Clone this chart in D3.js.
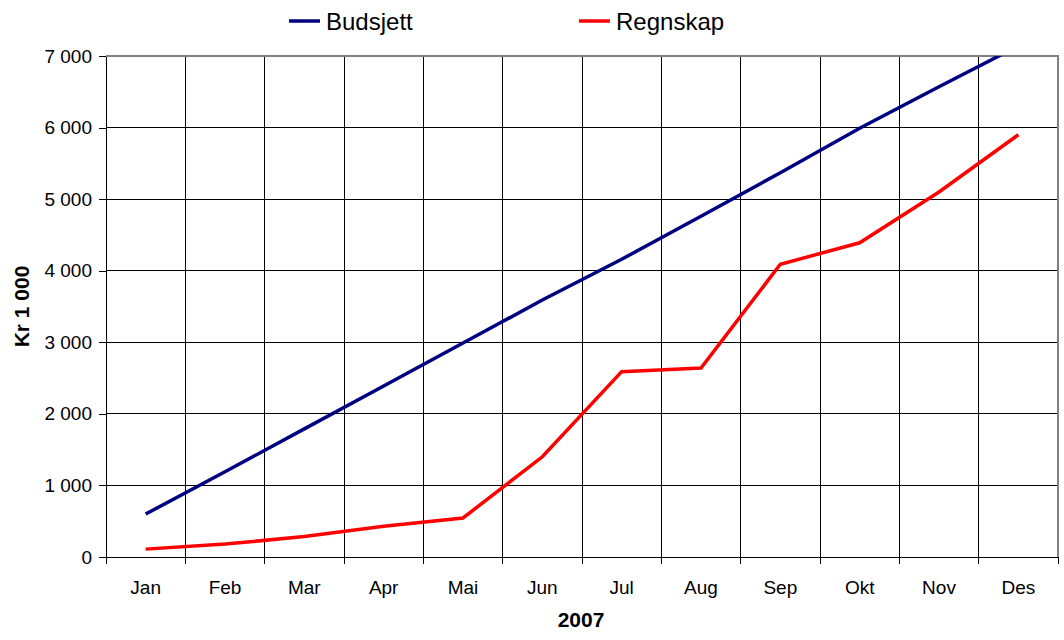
<!DOCTYPE html>
<html>
<head>
<meta charset="utf-8">
<script src="https://cdn.jsdelivr.net/npm/d3@7"></script>
<style>
body { margin: 0; background: #fff; }
svg { font-family: "Liberation Sans", Arial, sans-serif; }
</style>
</head>
<body>
<div id="chart"></div>
<script>
var months = ["Jan", "Feb", "Mar", "Apr", "Mai", "Jun", "Jul", "Aug", "Sep", "Okt", "Nov", "Des"];
var budsjett = [600, 1190, 1790, 2390, 2990, 3590, 4160, 4760, 5370, 5990, 6570, 7140];
var regnskap = [110, 180, 285, 430, 545, 1400, 2590, 2640, 4090, 4390, 5100, 5900];
var yTicks = [0, 1000, 2000, 3000, 4000, 5000, 6000, 7000];

var W = 1064, H = 640;
var margin = {top: 56, right: 6, bottom: 83, left: 106};
var width = W - margin.left - margin.right,
    height = H - margin.top - margin.bottom;

var locale = d3.formatLocale({decimal: ",", thousands: " ", grouping: [3], currency: ["", ""]});
var fmt = locale.format(",");

var svg = d3.select("#chart").append("svg")
    .attr("width", W)
    .attr("height", H);

var g = svg.append("g")
    .attr("transform", "translate(" + margin.left + "," + margin.top + ")");

var x = d3.scaleBand()
    .domain(months)
    .range([0, width])
    .padding(0);

var y = d3.scaleLinear()
    .domain([0, 7000])
    .range([height, 0]);

// grid
g.selectAll(".hgrid")
  .data(yTicks.slice(1, -1))
  .enter().append("line")
    .attr("x1", 0).attr("x2", width)
    .attr("y1", function(d) { return y(d); })
    .attr("y2", function(d) { return y(d); })
    .attr("stroke", "#000").attr("stroke-width", 1)
    .attr("shape-rendering", "crispEdges");

g.selectAll(".vgrid")
  .data(months.slice(1))
  .enter().append("line")
    .attr("x1", function(d) { return x(d); })
    .attr("x2", function(d) { return x(d); })
    .attr("y1", 0).attr("y2", height)
    .attr("stroke", "#000").attr("stroke-width", 1)
    .attr("shape-rendering", "crispEdges");

// frame top / right (gray)
g.append("path")
    .attr("d", "M0,0H" + width + "V" + height)
    .attr("fill", "none")
    .attr("stroke", "#808080")
    .attr("stroke-width", 2)
    .attr("shape-rendering", "crispEdges");

// y axis
var yAxis = d3.axisLeft(y)
    .tickValues(yTicks)
    .tickFormat(fmt)
    .tickSizeInner(7)
    .tickSizeOuter(0)
    .tickPadding(7);

var ya = g.append("g").call(yAxis);
ya.select(".domain").attr("stroke", "#000").attr("shape-rendering", "crispEdges");
ya.selectAll(".tick line").attr("stroke", "#000").attr("shape-rendering", "crispEdges");
ya.selectAll("text").attr("font-size", 19).attr("fill", "#000")
    .attr("font-family", "'Liberation Sans', Arial, sans-serif");

// x axis: ticks on band boundaries
var xa = g.append("g").attr("transform", "translate(0," + height + ")");
xa.append("line")
    .attr("x1", 0).attr("x2", width)
    .attr("stroke", "#000")
    .attr("shape-rendering", "crispEdges");
xa.selectAll(".xt")
  .data(d3.range(months.length + 1))
  .enter().append("line")
    .attr("x1", function(i) { return i * x.bandwidth(); })
    .attr("x2", function(i) { return i * x.bandwidth(); })
    .attr("y1", 0).attr("y2", 7)
    .attr("stroke", "#000")
    .attr("shape-rendering", "crispEdges");
xa.selectAll(".xl")
  .data(months)
  .enter().append("text")
    .attr("x", function(d) { return x(d) + x.bandwidth() / 2; })
    .attr("y", 37)
    .attr("text-anchor", "middle")
    .attr("font-size", 19)
    .text(function(d) { return d; });

// clip for lines
svg.append("clipPath").attr("id", "plotclip")
  .append("rect")
    .attr("x", 0).attr("y", 0)
    .attr("width", width).attr("height", height);

var line = d3.line()
    .x(function(d, i) { return x(months[i]) + x.bandwidth() / 2; })
    .y(function(d) { return y(d); });

var lines = g.append("g").attr("clip-path", "url(#plotclip)");

lines.append("path")
    .datum(budsjett)
    .attr("d", line)
    .attr("fill", "none")
    .attr("stroke", "#000080")
    .attr("stroke-width", 3.5);

lines.append("path")
    .datum(regnskap)
    .attr("d", line)
    .attr("fill", "none")
    .attr("stroke", "#ff0000")
    .attr("stroke-width", 3.5);

// axis titles
svg.append("text")
    .attr("transform", "translate(29," + (margin.top + height / 2) + ") rotate(-90)")
    .attr("text-anchor", "middle")
    .attr("font-size", 21)
    .attr("font-weight", "bold")
    .text("Kr 1 000");

svg.append("text")
    .attr("x", 581)
    .attr("y", 627)
    .attr("text-anchor", "middle")
    .attr("font-size", 21)
    .attr("font-weight", "bold")
    .text("2007");

// legend
var legendItems = [
  {name: "Budsjett", color: "#000080", x: 289},
  {name: "Regnskap", color: "#ff0000", x: 579}
];
var lg = svg.selectAll(".legend")
  .data(legendItems)
  .enter().append("g")
    .attr("transform", function(d) { return "translate(" + d.x + ",21)"; });
lg.append("line")
    .attr("x1", 0).attr("x2", 31)
    .attr("y1", 0).attr("y2", 0)
    .attr("stroke", function(d) { return d.color; })
    .attr("stroke-width", 3.5);
lg.append("text")
    .attr("x", 37)
    .attr("y", 9)
    .attr("font-size", 24)
    .text(function(d) { return d.name; });
</script>
</body>
</html>
